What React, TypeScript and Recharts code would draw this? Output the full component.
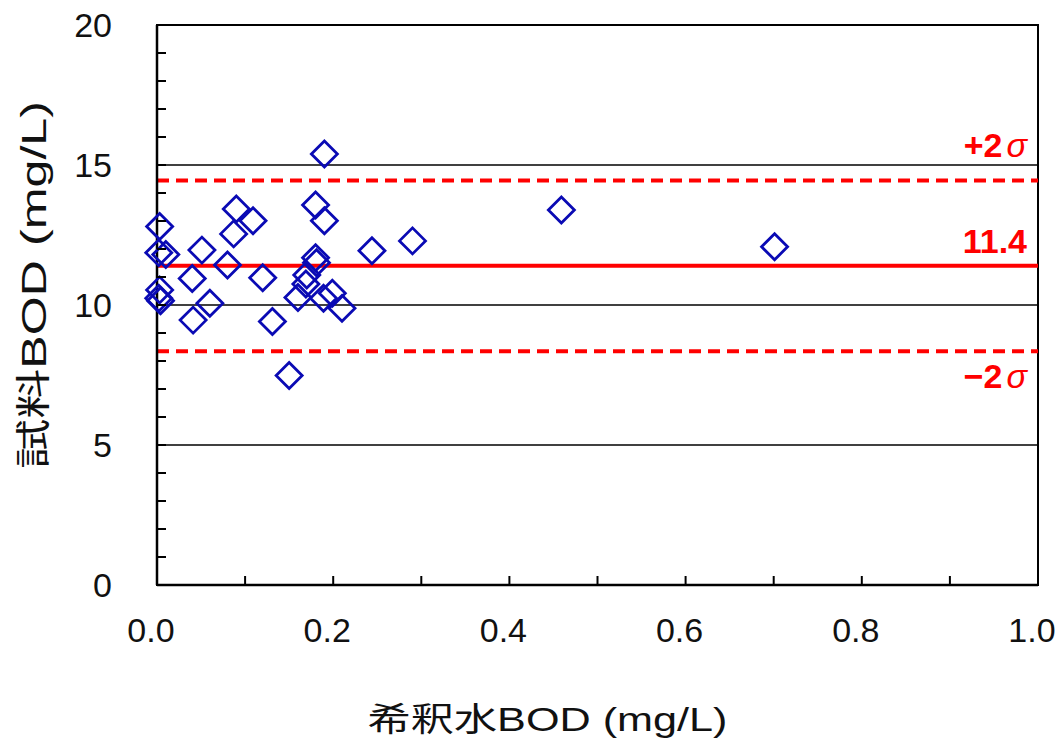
import React from 'react';
import {
  ScatterChart,
  Scatter,
  XAxis,
  YAxis,
  ReferenceLine,
  ReferenceArea,
} from 'recharts';

// 希釈水BOD (x) vs 試料BOD (y), mg/L
const dilutionBod = [
  0.003, 0.002, 0.010, 0.051, 0.090, 0.109, 0.087, 0.080, 0.040, 0.120, 0.003,
  0.002, 0.004, 0.060, 0.041, 0.131, 0.150, 0.190, 0.180, 0.190, 0.180, 0.181,
  0.170, 0.169, 0.160, 0.189, 0.199, 0.210, 0.244, 0.290, 0.459, 0.701,
];
const sampleBod = [
  12.8, 11.87, 11.8, 11.96, 13.43, 13.01, 12.54, 11.43, 10.95, 10.97, 10.54,
  10.24, 10.15, 10.06, 9.46, 9.41, 7.48, 15.39, 13.57, 13.01, 11.69, 11.51,
  11.07, 10.75, 10.27, 10.24, 10.42, 9.88, 11.94, 12.29, 13.39, 12.08,
];

const xTicks = [0, 0.1, 0.2, 0.3, 0.4, 0.5, 0.6, 0.7, 0.8, 0.9, 1.0];
const yTicks = [0, 1, 2, 3, 4, 5, 6, 7, 8, 9, 10, 11, 12, 13, 14, 15, 16, 17, 18, 19, 20];
const xLabelTicks = [0, 0.2, 0.4, 0.6, 0.8, 1.0];
const yLabelTicks = [0, 5, 10, 15, 20];
const gridLines = [5, 10, 15];

const mean = 11.4;
const plus2s = 14.45;
const minus2s = 8.35;

const data = dilutionBod.map((x, i) => ({ x, y: sampleBod[i] }));

const FONT = '"Liberation Sans", Arial, "Noto Sans CJK JP", sans-serif';
const RED = '#ff0000';
const BLUE = '#0a0ab4';

const Diamond = (props: any) => {
  const { cx, cy } = props;
  const r = 13;
  return (
    <path
      d={`M${cx},${cy - r} L${cx + r},${cy} L${cx},${cy + r} L${cx - r},${cy} Z`}
      fill="none"
      stroke={BLUE}
      strokeWidth={2.8}
    />
  );
};

const XTick = (props: any) => {
  const { x, y, payload } = props;
  const v = payload.value;
  const show = xLabelTicks.some((t) => Math.abs(t - v) < 1e-6);
  return (
    <g>
      <line x1={x} x2={x} y1={y} y2={y - 9} stroke="#000" strokeWidth={2} />
      {show && (
        <text x={x - 6} y={y + 57} textAnchor="middle" fontSize={34} fontFamily={FONT} fill="#111">
          {v.toFixed(1)}
        </text>
      )}
    </g>
  );
};

const YTick = (props: any) => {
  const { x, y, payload } = props;
  const v = payload.value;
  const show = yLabelTicks.includes(v);
  return (
    <g>
      <line x1={x} x2={x + 9} y1={y} y2={y} stroke="#000" strokeWidth={2} />
      {show && (
        <text x={x - 45} y={y} dy="0.36em" textAnchor="end" fontSize={34} fontFamily={FONT} fill="#111">
          {v}
        </text>
      )}
    </g>
  );
};

const refLabel = (main: string, sigma: boolean, dy: number) => (props: any) => {
  const { viewBox } = props;
  return (
    <text
      x={viewBox.x + viewBox.width - 11}
      y={viewBox.y + dy}
      textAnchor="end"
      fontSize={34}
      fontWeight="bold"
      fontFamily={FONT}
      fill={RED}
    >
      {main}
      {sigma && <tspan fontStyle="italic" fontWeight="normal" dx={4}>σ</tspan>}
    </text>
  );
};

const XTitle = (props: any) => {
  const { viewBox } = props;
  return (
    <text
      x={viewBox.x + viewBox.width / 2 - 50}
      y={viewBox.y + 146}
      textAnchor="middle"
      fontSize={33}
      fontFamily={FONT}
      fill="#111"
      textLength={360}
      lengthAdjust="spacingAndGlyphs"
    >
      希釈水BOD (mg/L)
    </text>
  );
};

const YTitle = (props: any) => {
  const { viewBox } = props;
  const cx = viewBox.x + 33;
  const cy = viewBox.y + viewBox.height / 2 - 20;
  return (
    <text
      x={cx}
      y={cy}
      transform={`rotate(-90 ${cx} ${cy})`}
      textAnchor="middle"
      dominantBaseline="central"
      fontSize={35}
      fontFamily={FONT}
      fill="#111"
      textLength={368}
      lengthAdjust="spacingAndGlyphs"
    >
      試料BOD (mg/L)
    </text>
  );
};

export default function App() {
  return (
    <div style={{ width: 1058, height: 743, background: '#fff' }}>
      <style>{'body{margin:0}'}</style>
      <ScatterChart
        width={1058}
        height={743}
        margin={{ top: 25, right: 20, bottom: 0, left: 0 }}
      >
        <XAxis
          type="number"
          dataKey="x"
          domain={[0, 1]}
          ticks={xTicks}
          interval={0}
          height={158}
          tickSize={0}
          tickMargin={0}
          tickLine={false}
          tick={<XTick />}
          axisLine={{ stroke: '#000', strokeWidth: 2.5 }}
          label={<XTitle />}
        />
        <YAxis
          type="number"
          dataKey="y"
          domain={[0, 20]}
          ticks={yTicks}
          interval={0}
          width={157}
          tickSize={0}
          tickMargin={0}
          tickLine={false}
          tick={<YTick />}
          axisLine={{ stroke: '#000', strokeWidth: 2.5 }}
          label={<YTitle />}
        />
        <ReferenceArea x1={0} x2={1} y1={0} y2={20} fill="none" stroke="#000" strokeWidth={2} />
        {gridLines.map((g) => (
          <ReferenceLine key={g} y={g} stroke="#000" strokeWidth={1.5} />
        ))}
        <ReferenceLine
          y={plus2s}
          stroke={RED}
          strokeWidth={4}
          strokeDasharray="12 7"
          label={refLabel('+2', true, -23)}
        />
        <ReferenceLine y={mean} stroke={RED} strokeWidth={4} label={refLabel('11.4', false, -13)} />
        <ReferenceLine
          y={minus2s}
          stroke={RED}
          strokeWidth={4}
          strokeDasharray="12 7"
          label={refLabel('−2', true, 37)}
        />
        <Scatter data={data} shape={<Diamond />} isAnimationActive={false} />
      </ScatterChart>
    </div>
  );
}
